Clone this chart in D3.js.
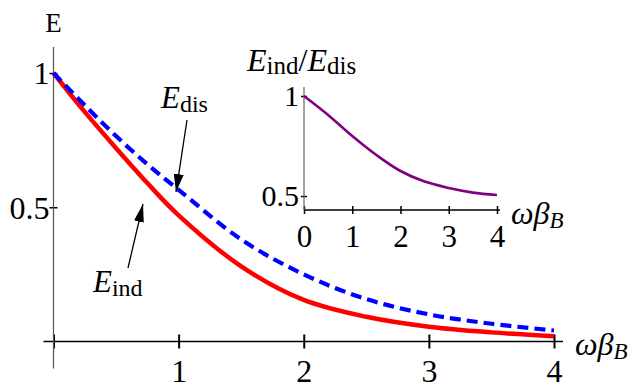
<!DOCTYPE html>
<html>
<head>
<meta charset="utf-8">
<script src="https://cdn.jsdelivr.net/npm/d3@7"></script>
<style>
  body { margin: 0; background: #fff; }
  svg text { font-family: "Liberation Serif", "Times New Roman", Tinos, Times, serif !important; fill: #000; }
</style>
</head>
<body>
<div id="chart"></div>
<script>
// data
const omega = [0, 0.25, 0.5, 0.75, 1, 1.5, 2, 2.5, 3, 3.5, 4];
const eDis = [1, 0.88, 0.765, 0.66, 0.565, 0.38, 0.25, 0.158, 0.101, 0.066, 0.041];
const eInd = [1, 0.855, 0.72, 0.59, 0.47, 0.28, 0.155, 0.092, 0.055, 0.034, 0.02];
const insetOmega = [0, 0.5, 1, 1.5, 2, 2.5, 3, 3.5, 4];
const ratio = [1, 0.905, 0.8, 0.705, 0.625, 0.572, 0.54, 0.517, 0.505];
const mainXTicks = [0, 1, 2, 3, 4];
const mainYTicks = [0.5, 1];
const insetXTicks = [0, 1, 2, 3, 4];
const insetYTicks = [0.5, 1];

const FONT = "'Liberation Serif', 'Times New Roman', serif";
const W = 629, H = 390;
const svg = d3.select("#chart").append("svg")
  .attr("width", W)
  .attr("height", H)
  .attr("font-family", FONT);

const defs = svg.append("defs");
defs.append("marker")
  .attr("id", "arrow")
  .attr("markerUnits", "userSpaceOnUse")
  .attr("viewBox", "0 -6 18 12")
  .attr("refX", 18).attr("refY", 0)
  .attr("markerWidth", 18).attr("markerHeight", 12)
  .attr("orient", "auto")
  .append("path")
  .attr("d", "M0,-5L18,0L0,5Z")
  .attr("fill", "#000");

// Main scales
const x = d3.scaleLinear().domain([0, 4]).range([53.5, 554]);
const y = d3.scaleLinear().domain([0, 1]).range([341.5, 73]);

// Main axes
const xAxisG = svg.append("g")
  .attr("transform", `translate(0, ${y(0)})`)
  .call(d3.axisBottom(x).tickValues(mainXTicks).tickSize(7).tickFormat(d => d === 0 ? "" : d));
xAxisG.attr("font-family", FONT).select(".domain").remove();
xAxisG.selectAll(".tick line").attr("y1", -7).attr("stroke", "#000").attr("stroke-width", 2);
xAxisG.selectAll(".tick text")
  .attr("y", 40).attr("dy", null)
  .attr("font-size", "32px");
svg.append("line")
  .attr("x1", x(0) - 10).attr("x2", x(4) + 9)
  .attr("y1", y(0)).attr("y2", y(0))
  .attr("stroke", "#000").attr("stroke-width", 1.5);

const yAxisG = svg.append("g")
  .attr("transform", `translate(${x(0)}, 0)`)
  .call(d3.axisLeft(y).tickValues(mainYTicks).tickSize(4).tickFormat(d => d === 1 ? "1" : "0.5"));
yAxisG.attr("font-family", FONT).select(".domain").remove();
yAxisG.selectAll(".tick line").attr("x1", 4).attr("stroke", "#000").attr("stroke-width", 1.5);
yAxisG.selectAll(".tick text")
  .attr("x", -4).attr("dy", "0.34em")
  .attr("font-size", "32px");
svg.append("line")
  .attr("x1", x(0)).attr("x2", x(0))
  .attr("y1", 47).attr("y2", y(0) + 27)
  .attr("stroke", "#555").attr("stroke-width", 1.2);

svg.append("text")
  .attr("x", x(0)).attr("y", 32)
  .attr("text-anchor", "middle")
  .attr("font-size", "27px")
  .text("E");

const xLab = svg.append("text").attr("x", 575).attr("y", 355).attr("font-size", "32px");
xLab.append("tspan").attr("font-style", "italic").text("ωβ");
xLab.append("tspan").attr("font-style", "italic").attr("font-size", "23px").attr("dy", 4).text("B");

// Curves
const line = d3.line()
  .x(d => x(d[0]))
  .y(d => y(d[1]))
  .curve(d3.curveCatmullRom);

svg.append("path")
  .datum(omega.map((o, i) => [o, eInd[i]]))
  .attr("d", line)
  .attr("fill", "none")
  .attr("stroke", "#ff0000")
  .attr("stroke-width", 4.5);

svg.append("path")
  .datum(omega.map((o, i) => [o, eDis[i]]))
  .attr("d", line)
  .attr("fill", "none")
  .attr("stroke", "#0000ff")
  .attr("stroke-width", 4.2)
  .attr("stroke-dasharray", "11,6");

// Annotations
const disLab = svg.append("text").attr("x", 161).attr("y", 108).attr("font-size", "31px");
disLab.append("tspan").attr("font-style", "italic").text("E");
disLab.append("tspan").attr("font-size", "24px").attr("dy", 4).text("dis");

svg.append("line")
  .attr("x1", 187).attr("y1", 120)
  .attr("x2", 176).attr("y2", 192)
  .attr("stroke", "#000").attr("stroke-width", 1.3)
  .attr("marker-end", "url(#arrow)");

const indLab = svg.append("text").attr("x", 93).attr("y", 292).attr("font-size", "31px");
indLab.append("tspan").attr("font-style", "italic").text("E");
indLab.append("tspan").attr("font-size", "24px").attr("dy", 4).text("ind");

svg.append("line")
  .attr("x1", 128).attr("y1", 268)
  .attr("x2", 143).attr("y2", 204)
  .attr("stroke", "#000").attr("stroke-width", 1.3)
  .attr("marker-end", "url(#arrow)");

// Inset
const xi = d3.scaleLinear().domain([0, 4]).range([304, 497]);
const yi = d3.scaleLinear().domain([0.5, 1]).range([196, 96]);
const insetAxisY = 210;

const xiAxisG = svg.append("g")
  .attr("transform", `translate(0, ${insetAxisY})`)
  .call(d3.axisBottom(xi).tickValues(insetXTicks).tickSize(4).tickFormat(d3.format("d")));
xiAxisG.attr("font-family", FONT).select(".domain").remove();
xiAxisG.selectAll(".tick line").attr("y1", -4).attr("stroke", "#000").attr("stroke-width", 1.5);
xiAxisG.selectAll(".tick text")
  .attr("y", 37).attr("dy", null)
  .attr("font-size", "31px");
svg.append("line")
  .attr("x1", xi(0)).attr("x2", xi(4) + 3)
  .attr("y1", insetAxisY).attr("y2", insetAxisY)
  .attr("stroke", "#000").attr("stroke-width", 1.3);

const yiAxisG = svg.append("g")
  .attr("transform", `translate(${xi(0)}, 0)`)
  .call(d3.axisLeft(yi).tickValues(insetYTicks).tickSize(3).tickFormat(d => d === 1 ? "1" : "0.5"));
yiAxisG.attr("font-family", FONT).select(".domain").remove();
yiAxisG.selectAll(".tick line").attr("x1", 3).attr("stroke", "#000").attr("stroke-width", 1.5);
yiAxisG.selectAll(".tick text")
  .attr("x", -5).attr("dy", "0.32em")
  .attr("font-size", "30px");
svg.append("line")
  .attr("x1", xi(0)).attr("x2", xi(0))
  .attr("y1", 87).attr("y2", insetAxisY)
  .attr("stroke", "#666").attr("stroke-width", 1.2);

const insetLine = d3.line()
  .x(d => xi(d[0]))
  .y(d => yi(d[1]))
  .curve(d3.curveCatmullRom);

svg.append("path")
  .datum(insetOmega.map((o, i) => [o, ratio[i]]))
  .attr("d", insetLine)
  .attr("fill", "none")
  .attr("stroke", "#800080")
  .attr("stroke-width", 2.6);

const tLab = svg.append("text").attr("x", 247).attr("y", 71).attr("font-size", "32px");
tLab.append("tspan").attr("font-style", "italic").text("E");
tLab.append("tspan").attr("font-size", "25px").attr("dy", 3).text("ind");
tLab.append("tspan").attr("dy", -3).text("/");
tLab.append("tspan").attr("font-style", "italic").text("E");
tLab.append("tspan").attr("font-size", "25px").attr("dy", 3).text("dis");

const xiLab = svg.append("text").attr("x", 511).attr("y", 224).attr("font-size", "32px");
xiLab.append("tspan").attr("font-style", "italic").text("ωβ");
xiLab.append("tspan").attr("font-style", "italic").attr("font-size", "23px").attr("dy", 4).text("B");
</script>
</body>
</html>
